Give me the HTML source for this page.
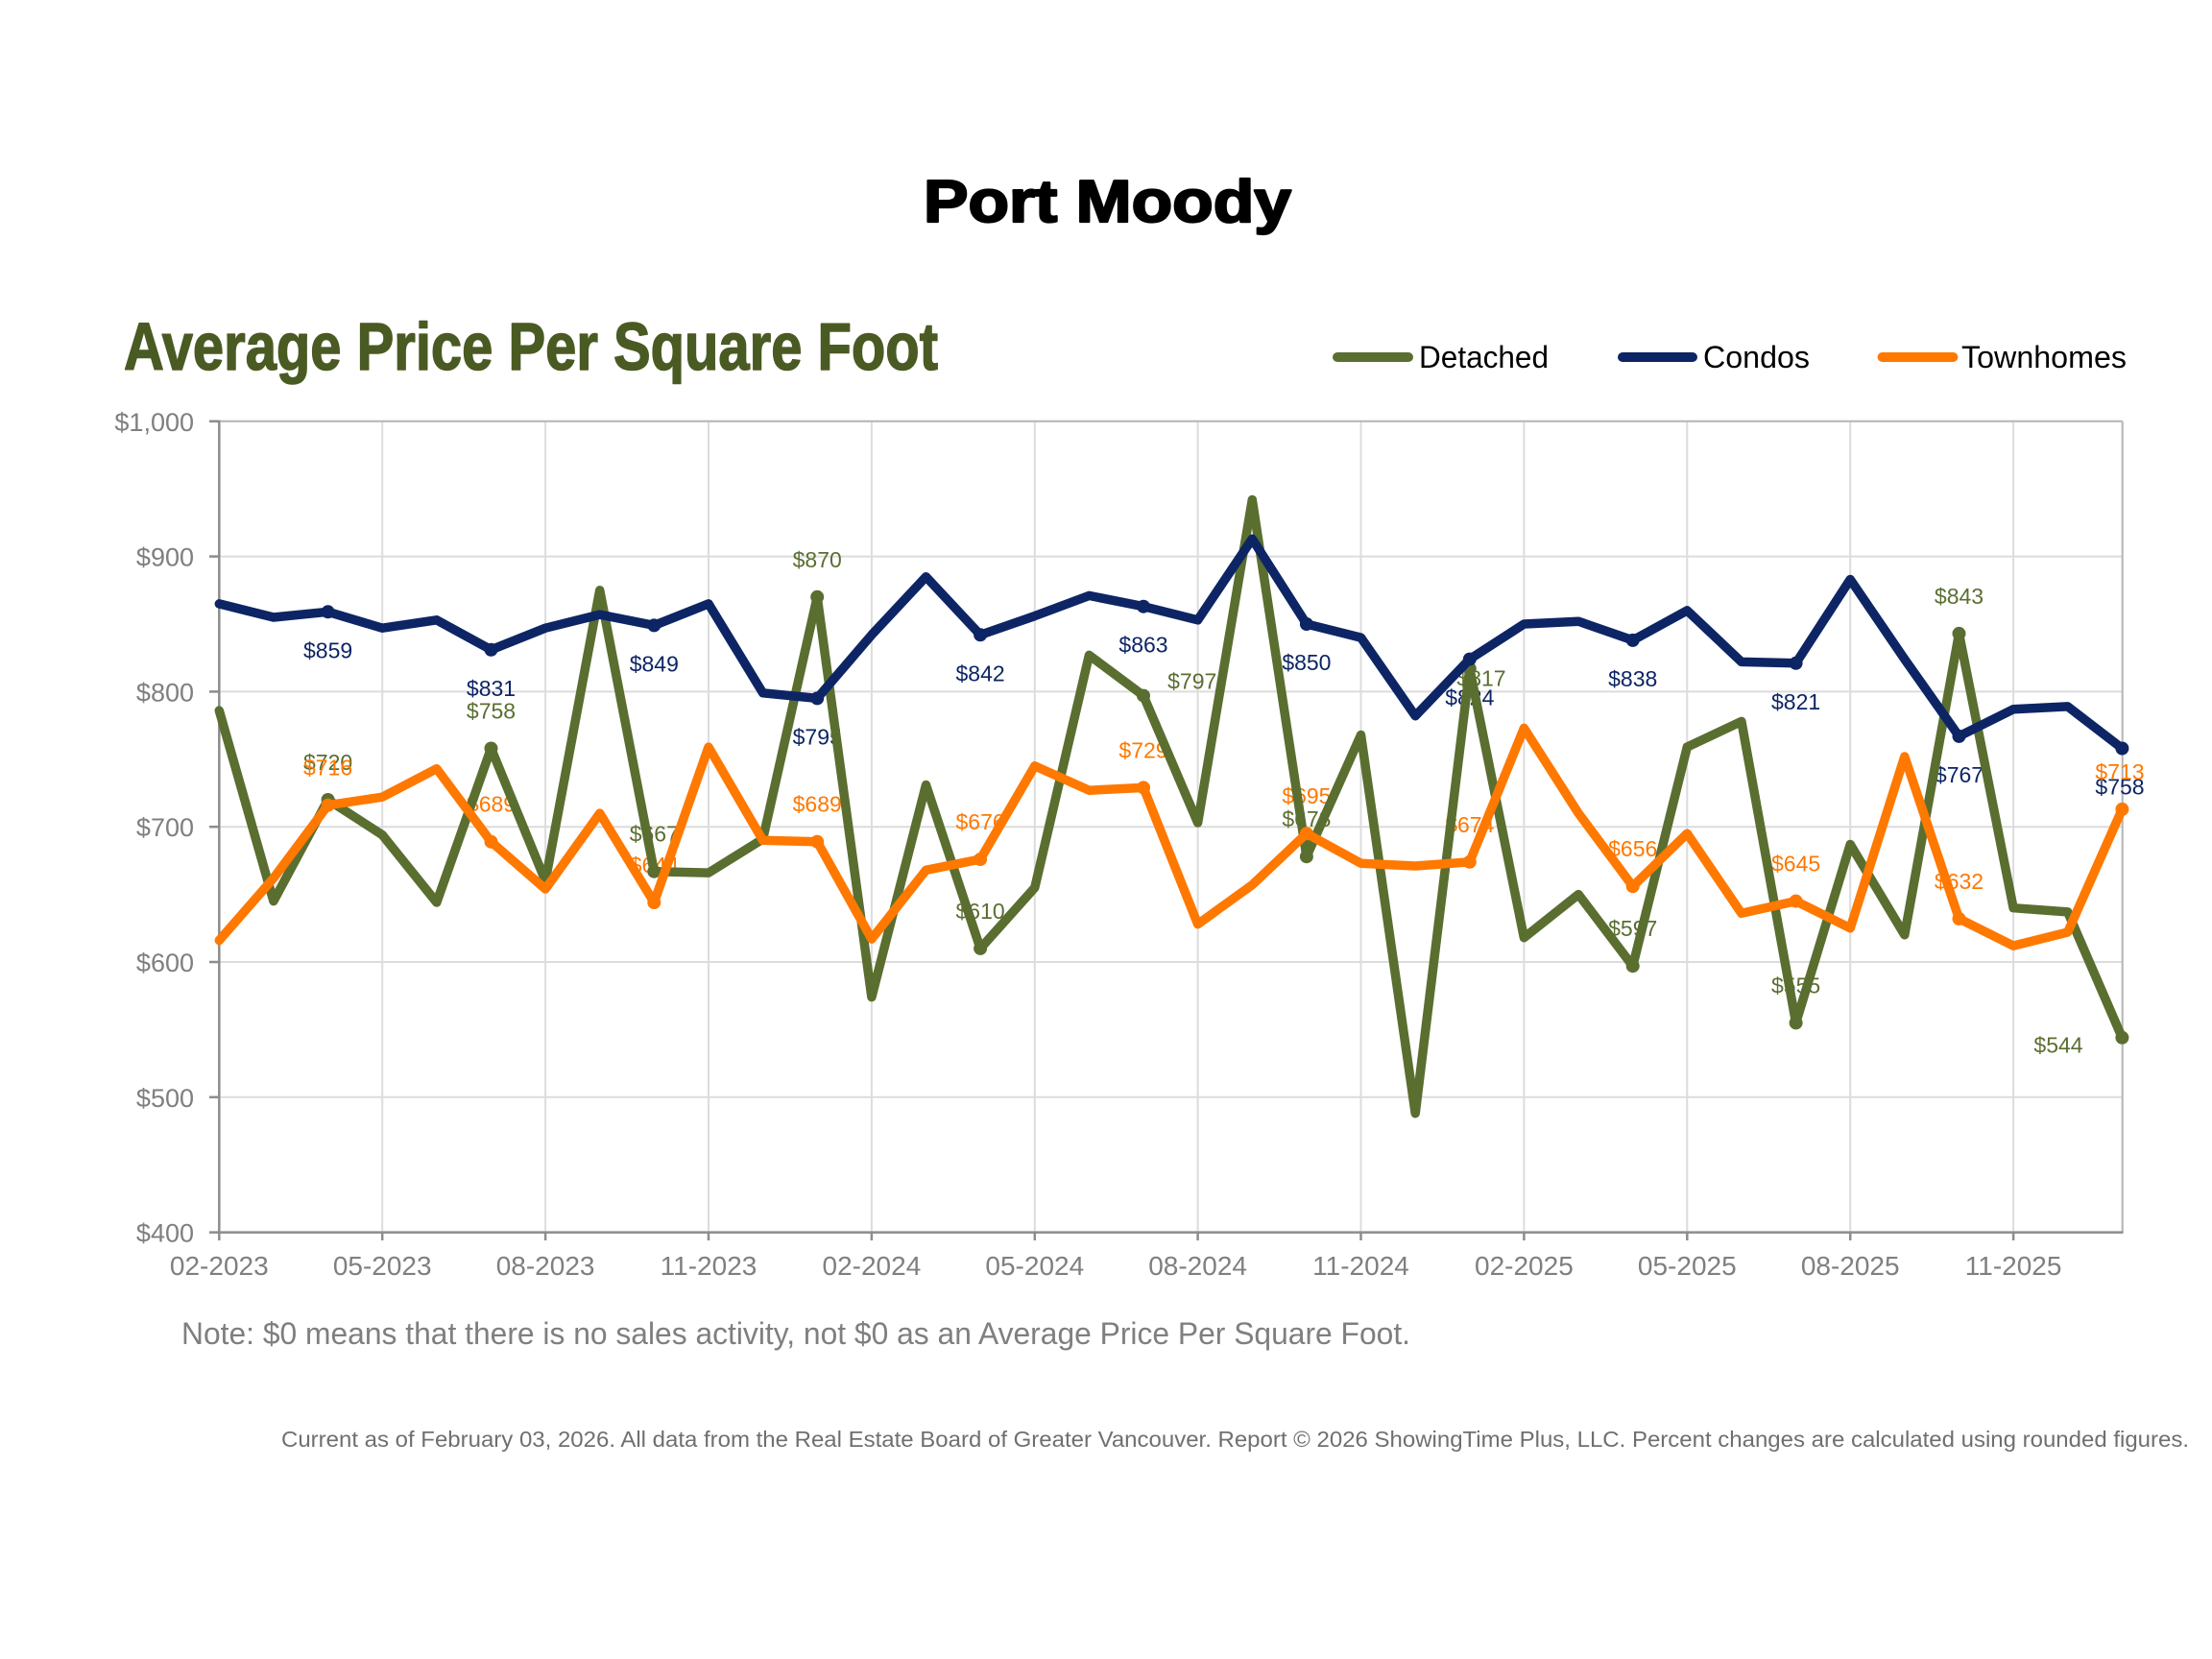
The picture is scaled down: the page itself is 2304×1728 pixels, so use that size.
<!DOCTYPE html>
<html>
<head>
<meta charset="utf-8">
<style>
  html, body { margin:0; padding:0; background:#ffffff; }
  body { width:2304px; height:1728px; overflow:hidden; }
  svg { display:block; }
  text { font-family: "Liberation Sans", Arial, sans-serif; }
</style>
</head>
<body>
<svg width="2304" height="1728" viewBox="0 0 2304 1728" xmlns="http://www.w3.org/2000/svg">
  <rect x="0" y="0" width="2304" height="1728" fill="#ffffff"/>

  <!-- Title -->
  <text x="962" y="231" font-size="62" font-weight="bold" fill="#000000" stroke="#000000" stroke-width="2.2" stroke-linejoin="round" textLength="383" lengthAdjust="spacingAndGlyphs">Port Moody</text>

  <!-- Subtitle -->
  <text x="129" y="385" font-size="70" font-weight="bold" fill="#4a5a23" stroke="#4a5a23" stroke-width="1.5" stroke-linejoin="round" textLength="848" lengthAdjust="spacingAndGlyphs">Average Price Per Square Foot</text>

  <!-- Legend -->
  <g stroke-width="10" stroke-linecap="round">
    <line x1="1393" y1="372" x2="1467" y2="372" stroke="#5a6e30"/>
    <line x1="1690" y1="372" x2="1763" y2="372" stroke="#0d2565"/>
    <line x1="1960.6" y1="372" x2="2034.4" y2="372" stroke="#ff7800"/>
  </g>
  <g font-size="32" fill="#000000">
    <text x="1478" y="383" textLength="135" lengthAdjust="spacingAndGlyphs">Detached</text>
    <text x="1774" y="383" textLength="111" lengthAdjust="spacingAndGlyphs">Condos</text>
    <text x="2043" y="383" textLength="172" lengthAdjust="spacingAndGlyphs">Townhomes</text>
  </g>

  <!-- Gridlines -->
  <g stroke="#dcdcdc" stroke-width="2">
    <line x1="228.3" y1="579.6" x2="2210.7" y2="579.6"/>
    <line x1="228.3" y1="720.4" x2="2210.7" y2="720.4"/>
    <line x1="228.3" y1="861.2" x2="2210.7" y2="861.2"/>
    <line x1="228.3" y1="1002" x2="2210.7" y2="1002"/>
    <line x1="228.3" y1="1142.8" x2="2210.7" y2="1142.8"/>
    <line x1="398.2" y1="438.8" x2="398.2" y2="1283.6"/>
    <line x1="568.1" y1="438.8" x2="568.1" y2="1283.6"/>
    <line x1="738.0" y1="438.8" x2="738.0" y2="1283.6"/>
    <line x1="907.9" y1="438.8" x2="907.9" y2="1283.6"/>
    <line x1="1077.8" y1="438.8" x2="1077.8" y2="1283.6"/>
    <line x1="1247.6" y1="438.8" x2="1247.6" y2="1283.6"/>
    <line x1="1417.5" y1="438.8" x2="1417.5" y2="1283.6"/>
    <line x1="1587.4" y1="438.8" x2="1587.4" y2="1283.6"/>
    <line x1="1757.3" y1="438.8" x2="1757.3" y2="1283.6"/>
    <line x1="1927.2" y1="438.8" x2="1927.2" y2="1283.6"/>
    <line x1="2097.1" y1="438.8" x2="2097.1" y2="1283.6"/>
  </g>
  <!-- top & right frame -->
  <g stroke="#b4b4b4" stroke-width="2">
    <line x1="228.3" y1="438.8" x2="2210.7" y2="438.8"/>
    <line x1="2210.7" y1="438.8" x2="2210.7" y2="1283.6"/>
  </g>
  <!-- axes -->
  <g stroke="#8c8c8c" stroke-width="2.5">
    <line x1="228.3" y1="437.8" x2="228.3" y2="1284.6"/>
    <line x1="227" y1="1283.6" x2="2211.5" y2="1283.6"/>
    <line x1="218" y1="438.8" x2="228.3" y2="438.8"/>
    <line x1="218" y1="579.6" x2="228.3" y2="579.6"/>
    <line x1="218" y1="720.4" x2="228.3" y2="720.4"/>
    <line x1="218" y1="861.2" x2="228.3" y2="861.2"/>
    <line x1="218" y1="1002" x2="228.3" y2="1002"/>
    <line x1="218" y1="1142.8" x2="228.3" y2="1142.8"/>
    <line x1="218" y1="1283.6" x2="228.3" y2="1283.6"/>
    <line x1="228.3" y1="1283.6" x2="228.3" y2="1292"/>
    <line x1="398.2" y1="1283.6" x2="398.2" y2="1292"/>
    <line x1="568.1" y1="1283.6" x2="568.1" y2="1292"/>
    <line x1="738.0" y1="1283.6" x2="738.0" y2="1292"/>
    <line x1="907.9" y1="1283.6" x2="907.9" y2="1292"/>
    <line x1="1077.8" y1="1283.6" x2="1077.8" y2="1292"/>
    <line x1="1247.6" y1="1283.6" x2="1247.6" y2="1292"/>
    <line x1="1417.5" y1="1283.6" x2="1417.5" y2="1292"/>
    <line x1="1587.4" y1="1283.6" x2="1587.4" y2="1292"/>
    <line x1="1757.3" y1="1283.6" x2="1757.3" y2="1292"/>
    <line x1="1927.2" y1="1283.6" x2="1927.2" y2="1292"/>
    <line x1="2097.1" y1="1283.6" x2="2097.1" y2="1292"/>
  </g>

  <!-- Y labels -->
  <g font-size="27" fill="#7f7f7f" text-anchor="end">
    <text x="202" y="448.8">$1,000</text>
    <text x="202" y="589.6">$900</text>
    <text x="202" y="730.4">$800</text>
    <text x="202" y="871.2">$700</text>
    <text x="202" y="1012">$600</text>
    <text x="202" y="1152.8">$500</text>
    <text x="202" y="1293.6">$400</text>
  </g>
  <!-- X labels -->
  <g font-size="28" fill="#7f7f7f" text-anchor="middle">
    <text x="228.3" y="1328">02-2023</text>
    <text x="398.2" y="1328">05-2023</text>
    <text x="568.1" y="1328">08-2023</text>
    <text x="738.0" y="1328">11-2023</text>
    <text x="907.9" y="1328">02-2024</text>
    <text x="1077.8" y="1328">05-2024</text>
    <text x="1247.6" y="1328">08-2024</text>
    <text x="1417.5" y="1328">11-2024</text>
    <text x="1587.4" y="1328">02-2025</text>
    <text x="1757.3" y="1328">05-2025</text>
    <text x="1927.2" y="1328">08-2025</text>
    <text x="2097.1" y="1328">11-2025</text>
  </g>

  <!-- Data labels (under lines) -->
  <g font-size="23" text-anchor="middle" fill="#5a6e30">
    <text x="341.6" y="802">$720</text>
    <text x="511.5" y="748.5">$758</text>
    <text x="681.3" y="876.7">$667</text>
    <text x="851.2" y="590.8">$870</text>
    <text x="1021.1" y="956.9">$610</text>
    <text x="1241.7" y="717.6">$797</text>
    <text x="1360.9" y="861.2">$678</text>
    <text x="1543" y="714.4">$817</text>
    <text x="1700.7" y="975.2">$597</text>
    <text x="1870.6" y="1034.4">$555</text>
    <text x="2040.5" y="628.9">$843</text>
    <text x="2144" y="1096.6">$544</text>
  </g>
  <g font-size="23" text-anchor="middle" fill="#0d2565">
    <text x="341.6" y="685.3">$859</text>
    <text x="511.5" y="724.8">$831</text>
    <text x="681.3" y="699.4">$849</text>
    <text x="851.2" y="775.4">$795</text>
    <text x="1021.1" y="709.3">$842</text>
    <text x="1191.0" y="679.7">$863</text>
    <text x="1360.9" y="698">$850</text>
    <text x="1530.8" y="734.6">$824</text>
    <text x="1700.7" y="714.9">$838</text>
    <text x="1870.6" y="738.8">$821</text>
    <text x="2040.5" y="814.9">$767</text>
    <text x="2208" y="827.5">$758</text>
  </g>
  <g font-size="23" text-anchor="middle" fill="#ff7800">
    <text x="341.6" y="807.7">$716</text>
    <text x="511.5" y="845.7">$689</text>
    <text x="681.3" y="909">$644</text>
    <text x="851.2" y="845.7">$689</text>
    <text x="1021.1" y="864">$676</text>
    <text x="1191.0" y="789.4">$729</text>
    <text x="1360.9" y="837.2">$695</text>
    <text x="1530.8" y="866.8">$674</text>
    <text x="1700.7" y="892.2">$656</text>
    <text x="1870.6" y="907.6">$645</text>
    <text x="2040.5" y="925.9">$632</text>
    <text x="2208" y="811.9">$713</text>
  </g>

  <!-- Detached -->
  <polyline fill="none" stroke="#5a6e30" stroke-width="9.5" stroke-linejoin="round" stroke-linecap="round"
    points="228.3,740.1 284.9,938.6 341.6,833.0 398.2,869.6 454.8,940.0 511.5,779.5 568.1,917.5 624.7,614.8 681.3,907.7 738.0,909.1 794.6,873.9 851.2,621.8 907.9,1038.6 964.5,817.6 1021.1,987.9 1077.8,924.6 1134.4,682.4 1191.0,724.6 1247.6,857.0 1304.3,520.5 1360.9,892.2 1417.5,765.5 1474.2,1159.7 1530.8,696.5 1587.4,976.7 1644.1,931.6 1700.7,1006.2 1757.3,778.1 1813.9,751.4 1870.6,1065.4 1927.2,879.5 1983.8,973.8 2040.5,659.9 2097.1,945.7 2153.7,949.9 2210.4,1080.8"/>
  <g fill="#5a6e30">
    <circle cx="341.6" cy="833.0" r="7"/>
    <circle cx="511.5" cy="779.5" r="7"/>
    <circle cx="681.3" cy="907.7" r="7"/>
    <circle cx="851.2" cy="621.8" r="7"/>
    <circle cx="1021.1" cy="987.9" r="7"/>
    <circle cx="1191.0" cy="724.6" r="7"/>
    <circle cx="1360.9" cy="892.2" r="7"/>
    <circle cx="1530.8" cy="696.5" r="7"/>
    <circle cx="1700.7" cy="1006.2" r="7"/>
    <circle cx="1870.6" cy="1065.4" r="7"/>
    <circle cx="2040.5" cy="659.9" r="7"/>
    <circle cx="2210.4" cy="1080.8" r="7"/>
  </g>

  <!-- Condos -->
  <polyline fill="none" stroke="#0d2565" stroke-width="9.5" stroke-linejoin="round" stroke-linecap="round"
    points="228.3,628.9 284.9,643.0 341.6,637.3 398.2,654.2 454.8,645.8 511.5,676.8 568.1,654.2 624.7,640.1 681.3,651.4 738.0,628.9 794.6,721.8 851.2,727.4 907.9,661.3 964.5,600.7 1021.1,661.3 1077.8,641.6 1134.4,620.4 1191.0,631.7 1247.6,645.8 1304.3,561.3 1360.9,650.0 1417.5,664.1 1474.2,745.7 1530.8,686.6 1587.4,650.0 1644.1,647.2 1700.7,666.9 1757.3,635.9 1813.9,689.4 1870.6,690.8 1927.2,603.5 1983.8,686.6 2040.5,766.9 2097.1,738.7 2153.7,735.9 2210.4,779.5"/>
  <g fill="#0d2565">
    <circle cx="341.6" cy="637.3" r="7"/>
    <circle cx="511.5" cy="676.8" r="7"/>
    <circle cx="681.3" cy="651.4" r="7"/>
    <circle cx="851.2" cy="727.4" r="7"/>
    <circle cx="1021.1" cy="661.3" r="7"/>
    <circle cx="1191.0" cy="631.7" r="7"/>
    <circle cx="1360.9" cy="650.0" r="7"/>
    <circle cx="1530.8" cy="686.6" r="7"/>
    <circle cx="1700.7" cy="666.9" r="7"/>
    <circle cx="1870.6" cy="690.8" r="7"/>
    <circle cx="2040.5" cy="766.9" r="7"/>
    <circle cx="2210.4" cy="779.5" r="7"/>
  </g>

  <!-- Townhomes -->
  <polyline fill="none" stroke="#ff7800" stroke-width="9.5" stroke-linejoin="round" stroke-linecap="round"
    points="228.3,979.5 284.9,914.7 341.6,838.7 398.2,830.2 454.8,800.7 511.5,876.7 568.1,926.0 624.7,847.1 681.3,940.0 738.0,778.1 794.6,875.3 851.2,876.7 907.9,978.1 964.5,906.3 1021.1,895.0 1077.8,797.8 1134.4,823.2 1191.0,820.4 1247.6,962.6 1304.3,921.7 1360.9,868.2 1417.5,899.2 1474.2,902.0 1530.8,897.8 1587.4,758.4 1644.1,847.1 1700.7,923.2 1757.3,868.2 1813.9,951.3 1870.6,938.6 1927.2,966.8 1983.8,788.0 2040.5,956.9 2097.1,985.1 2153.7,971.0 2210.4,842.9"/>
  <g fill="#ff7800">
    <circle cx="341.6" cy="838.7" r="7"/>
    <circle cx="511.5" cy="876.7" r="7"/>
    <circle cx="681.3" cy="940.0" r="7"/>
    <circle cx="851.2" cy="876.7" r="7"/>
    <circle cx="1021.1" cy="895.0" r="7"/>
    <circle cx="1191.0" cy="820.4" r="7"/>
    <circle cx="1360.9" cy="868.2" r="7"/>
    <circle cx="1530.8" cy="897.8" r="7"/>
    <circle cx="1700.7" cy="923.2" r="7"/>
    <circle cx="1870.6" cy="938.6" r="7"/>
    <circle cx="2040.5" cy="956.9" r="7"/>
    <circle cx="2210.4" cy="842.9" r="7"/>
  </g>

  <!-- Note -->
  <text x="189" y="1400" font-size="32" fill="#7f7f7f" textLength="1280" lengthAdjust="spacingAndGlyphs">Note: $0 means that there is no sales activity, not $0 as an Average Price Per Square Foot.</text>

  <!-- Footer -->
  <text x="293" y="1507" font-size="23" fill="#6f6f6f" textLength="1987" lengthAdjust="spacingAndGlyphs">Current as of February 03, 2026. All data from the Real Estate Board of Greater Vancouver.  Report © 2026 ShowingTime Plus, LLC. Percent changes are calculated using rounded figures.</text>
</svg>
</body>
</html>
